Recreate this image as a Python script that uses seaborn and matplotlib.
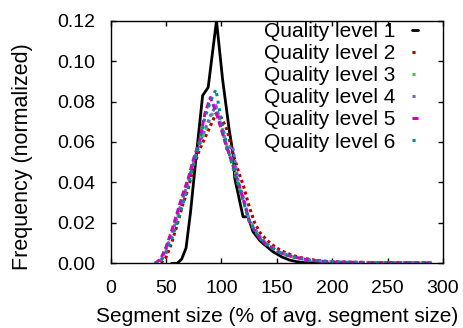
import pandas as pd
import matplotlib
matplotlib.use('Agg')
import matplotlib.pyplot as plt
import seaborn as sns

# Quality level 1 (own sample points)
q1_size = [55, 60, 64, 68, 72, 77, 83, 88, 95.5, 101, 107, 110.5, 112, 119.5, 124, 128.5,
           135, 146.5, 155, 161.5, 168, 175, 190, 200]
q1_freq = [0, 0, 0.002, 0.0075, 0.025, 0.052, 0.083, 0.087, 0.12, 0.091, 0.066, 0.054, 0.042,
           0.023, 0.023, 0.0156, 0.011, 0.0057, 0.003, 0.0016, 0.0008, 0.0003, 0.0001, 0]

# Quality levels 2-6 (common grid)
size_pct = [40, 45, 50, 55, 60, 65, 70, 75, 80, 85, 90, 95, 100, 105, 110, 115, 120, 125, 130,
            135, 140, 145, 150, 155, 160, 165, 170, 175, 180, 185, 190, 195, 200,
            210, 230, 250, 270, 290]
q2_freq = [0, 0, 0.003, 0.010, 0.019, 0.029, 0.037, 0.048, 0.056, 0.062, 0.068, 0.074, 0.072,
           0.066, 0.055, 0.046, 0.038, 0.028, 0.020, 0.015, 0.012, 0.0095, 0.0075, 0.006, 0.0048,
           0.0038, 0.003, 0.0024, 0.0019, 0.0015, 0.0012, 0.001, 0.0008,
           0.0006, 0.0004, 0.0003, 0.0002, 0.0002]
q3_freq = [0, 0.001, 0.006, 0.013, 0.022, 0.031, 0.040, 0.050, 0.058, 0.065, 0.072, 0.077, 0.068,
           0.058, 0.050, 0.040, 0.031, 0.022, 0.017, 0.013, 0.010, 0.008, 0.0062, 0.005, 0.004,
           0.0032, 0.0026, 0.0021, 0.0016, 0.0013, 0.001, 0.0008, 0.0007,
           0.0005, 0.0004, 0.0003, 0.0003, 0.0002]
q4_freq = [0, 0.001, 0.007, 0.014, 0.023, 0.032, 0.040, 0.051, 0.059, 0.066, 0.073, 0.078, 0.068,
           0.056, 0.058, 0.041, 0.032, 0.021, 0.017, 0.013, 0.010, 0.0082, 0.0063, 0.0049, 0.004,
           0.0032, 0.0026, 0.0021, 0.0016, 0.0013, 0.001, 0.0008, 0.0007,
           0.0005, 0.0004, 0.0003, 0.0003, 0.0002]
q5_freq = [0, 0.002, 0.008, 0.016, 0.025, 0.034, 0.042, 0.052, 0.060, 0.074, 0.082, 0.075, 0.066,
           0.057, 0.049, 0.040, 0.031, 0.021, 0.016, 0.012, 0.0095, 0.0078, 0.006, 0.0048, 0.0039,
           0.0032, 0.0026, 0.002, 0.0016, 0.0013, 0.001, 0.0008, 0.0007,
           0.0005, 0.0004, 0.0003, 0.0003, 0.0002]
q6_freq = [0, 0.001, 0.005, 0.012, 0.020, 0.029, 0.038, 0.050, 0.060, 0.072, 0.080, 0.086, 0.070,
           0.058, 0.048, 0.039, 0.030, 0.021, 0.016, 0.012, 0.0095, 0.0078, 0.006, 0.0047, 0.0038,
           0.003, 0.0025, 0.002, 0.0016, 0.0013, 0.001, 0.0008, 0.0007,
           0.0005, 0.0004, 0.0003, 0.0003, 0.0002]

labels = ['Quality level %d' % i for i in range(1, 7)]
colors = ['black', '#b00000', '#50c050', '#6a6ac8', '#c800c8', '#008c8c']
dash_styles = ['-', (0, (1, 1)), (0, (1, 1.5)), (0, (1, 1)), (0, (2, 1)), (0, (1, 1.5))]

series = [(q1_size, q1_freq)] + [(size_pct, f) for f in [q2_freq, q3_freq, q4_freq, q5_freq, q6_freq]]

sns.set_style('ticks')
plt.rcParams['font.family'] = ['Liberation Sans', 'DejaVu Sans']
plt.rcParams['text.color'] = 'black'
plt.rcParams['axes.labelcolor'] = 'black'

fig = plt.figure(figsize=(4.64, 3.28), dpi=100)
ax = fig.add_axes([0.2386, 0.1973, 0.7161, 0.7396])

for i, (xs, ys) in enumerate(series):
    df = pd.DataFrame({'size': xs, 'freq': ys})
    sns.lineplot(data=df, x='size', y='freq', ax=ax, color=colors[i], label=labels[i],
                 linestyle=dash_styles[i], linewidth=2.0 if i == 0 else 2.2)

ax.set_xlim(0, 300)
ax.set_ylim(0, 0.12)
ax.set_xticks(range(0, 301, 50))
ax.set_yticks([0, 0.02, 0.04, 0.06, 0.08, 0.10, 0.12])
ax.set_yticklabels(['%.2f' % v for v in ax.get_yticks()])
ax.set_xlabel('Segment size (% of avg. segment size)', fontsize=15)
ax.set_ylabel('Frequency (normalized)', fontsize=15.5)
ax.xaxis.set_label_coords(0.5, -0.18)
ax.yaxis.set_label_coords(-0.235, 0.44)
ax.tick_params(direction='in', top=True, right=True, length=3.5, width=1, labelsize=14,
               colors='black')
ax.tick_params(axis='x', pad=12)
ax.tick_params(axis='y', pad=11)
for s in ax.spines.values():
    s.set_linewidth(1)
    s.set_color('black')

ax.legend(loc='upper right', frameon=False, markerfirst=False, handlelength=0.3,
          handletextpad=0.8, labelspacing=0.15, fontsize=15, borderaxespad=0, borderpad=0,
          bbox_to_anchor=(0.925, 0.995))

fig.savefig('out.png', dpi=100)
